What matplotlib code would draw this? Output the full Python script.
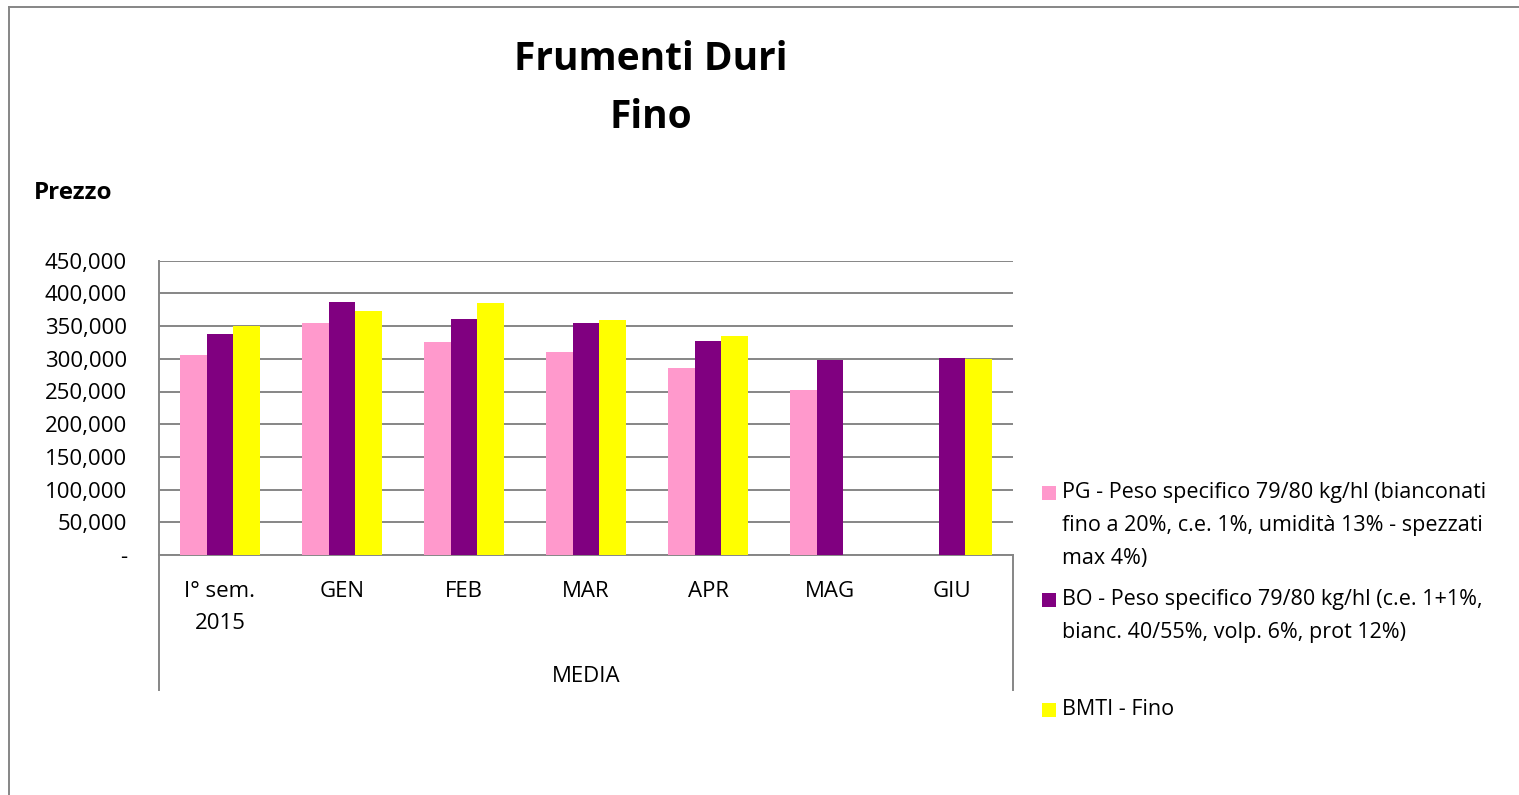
import numpy as np
import matplotlib
matplotlib.use('Agg')
import matplotlib.pyplot as plt
from matplotlib.lines import Line2D
from matplotlib.patches import Rectangle
from matplotlib.ticker import FuncFormatter

plt.rcParams['font.family'] = ['Open Sans', 'DejaVu Sans']

# data
categories = ['I° sem.\n2015', 'GEN', 'FEB', 'MAR', 'APR', 'MAG', 'GIU']
pg = [305300, 354200, 325700, 310400, 286400, 251800, np.nan]
bo = [337900, 387300, 361400, 354700, 326700, 297600, 300700]
bmti = [350100, 373100, 385800, 359800, 334300, np.nan, 299700]
series_names = ['PG - Peso specifico 79/80 kg/hl (bianconati\nfino a 20%, c.e. 1%, umidità 13% - spezzati\nmax 4%)',
                'BO - Peso specifico 79/80 kg/hl (c.e. 1+1%,\nbianc. 40/55%, volp. 6%, prot 12%)',
                'BMTI - Fino']
colors = ['#FF99CC', '#800080', '#FFFF00']
group_label = 'MEDIA'

W, H = 1519, 795
fig = plt.figure(figsize=(W / 100, H / 100), dpi=100)
ax = fig.add_axes([159 / W, 1 - 555 / H, (1013 - 159) / W, (555 - 260.7) / H])

x = np.arange(len(categories))
bw = 0.221
for i, (vals, c) in enumerate(zip([pg, bo, bmti], colors)):
    ax.bar(x + (i - 1) * bw, vals, bw, color=c, zorder=3, linewidth=0)

ax.set_xlim(-0.5, len(categories) - 0.5)
ax.set_ylim(0, 450000)
ax.set_yticks(np.arange(0, 450001, 50000))
ax.yaxis.set_major_formatter(FuncFormatter(lambda v, p: '-' if v == 0 else '{:,.0f}'.format(v)))
ax.grid(axis='y', color='#868686', linewidth=1.4, zorder=0)
ax.tick_params(axis='y', length=0, pad=23, labelsize=16)
ax.tick_params(axis='x', length=0, pad=19, labelsize=16)
ax.set_xticks(x)
ax.set_xticklabels(categories, linespacing=1.65)

for s in ['top', 'right']:
    ax.spines[s].set_visible(False)
for s in ['left', 'bottom']:
    ax.spines[s].set_color('#868686')
    ax.spines[s].set_linewidth(1.4)

# category axis box below the plot
ax.plot([0, 0], [0, -0.459], transform=ax.transAxes, color='#868686', lw=1.4, clip_on=False)
ax.plot([1, 1], [0, -0.459], transform=ax.transAxes, color='#868686', lw=1.4, clip_on=False)
ax.text(0.5, -0.412, group_label, transform=ax.transAxes, ha='center', va='center', fontsize=16)

# titles
fig.text(651 / W, 1 - 60 / H, 'Frumenti Duri', ha='center', va='center', fontsize=28, fontweight='bold')
fig.text(651 / W, 1 - 117 / H, 'Fino', ha='center', va='center', fontsize=28, fontweight='bold')
fig.text(34 / W, 1 - 193 / H, 'Prezzo', ha='left', va='center', fontsize=17.5, fontweight='bold')

# legend
leg_y = [493, 600, 710]
for name, c, yy in zip(series_names, colors, leg_y):
    fig.patches.append(Rectangle((1042 / W, 1 - (yy + 7) / H), 14 / W, 14 / H,
                                 transform=fig.transFigure, facecolor=c, edgecolor='none'))
    fig.text(1062 / W, 1 - (yy - 11) / H, name, ha='left', va='top', fontsize=15.5, linespacing=1.75)

# outer chart border
fig.lines.append(Line2D([9 / W, 1], [1 - 7 / H, 1 - 7 / H], transform=fig.transFigure, color='#868686', lw=1.4))
fig.lines.append(Line2D([9 / W, 9 / W], [0, 1 - 7 / H], transform=fig.transFigure, color='#868686', lw=1.4))

fig.savefig('out.png', dpi=100)
